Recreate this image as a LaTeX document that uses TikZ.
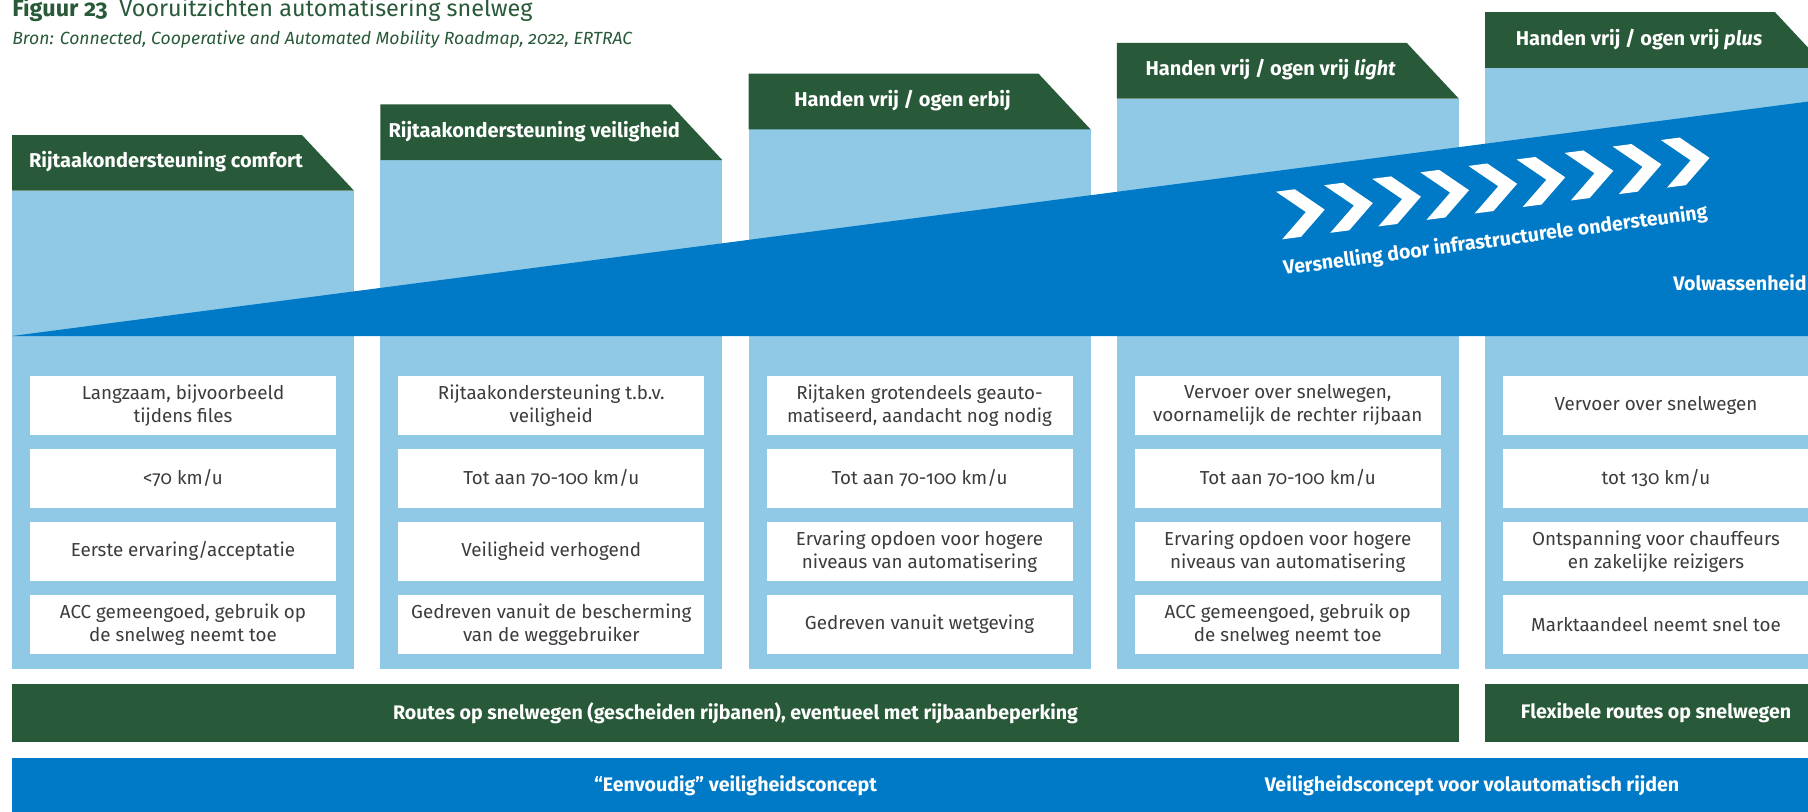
\documentclass[tikz,border=0pt]{standalone}
\usepackage{fontspec}
\setmainfont{Fira Sans}[Numbers=OldStyle]
\usepackage{tikz}
\usetikzlibrary{positioning}
\definecolor{rijkgreen}{HTML}{285938}
\definecolor{rijklight}{HTML}{8FC9E6}
\definecolor{rijkblue}{HTML}{007AC7}
\definecolor{boxgrey}{HTML}{3C3C3C}
\tikzset{colfill/.style={fill=rijklight},
headfill/.style={fill=rijkgreen},
headtext/.style={text=white, font=\fontsize{10}{12}\selectfont\bfseries, inner sep=0pt},
infobox/.style={rectangle, fill=white, minimum width=153pt, minimum height=29.35pt, align=center, text=boxgrey, font=\fontsize{9.4}{11.5}\selectfont, inner sep=0pt},
roadbar/.style={rectangle, fill=rijkgreen, minimum height=29pt, inner sep=0pt, text=white, font=\fontsize{9.8}{12}\selectfont\bfseries},
bartext/.style={text=white, font=\fontsize{9.8}{12}\selectfont\bfseries, inner sep=0pt},
chevronmark/.pic={\fill[white] (0,0) -- (19,0) -- (46,24) -- (19,48) -- (0,48) -- (27,24) -- cycle;},}

\begin{document}
\begin{tikzpicture}[x=0.5pt, y=-0.5pt, node distance=36.5pt]
\useasboundingbox (0,0) rectangle (1808,811);
\clip (0,0) rectangle (1808,811);
\node [anchor=base west, inner sep=0pt, text=rijkgreen, font=\fontsize{11.7}{14}\selectfont] (title) at (12,16) {\textbf{Figuur 23}\hspace{0.5em}Vooruitzichten automatisering snelweg};
\node [anchor=base west, inner sep=0pt, text=rijkgreen, font=\fontsize{8.8}{10}\selectfont\itshape] (source) at (12,44) {Bron: Connected, Cooperative and Automated Mobility Roadmap, 2022, ERTRAC};
\fill[colfill] (12,190.7) rectangle (354,669);
\fill[colfill] (380.25,160) rectangle (722.25,669);
\fill[colfill] (748.5,129.3) rectangle (1090.5,669);
\fill[colfill] (1116.75,98.6) rectangle (1458.75,669);
\fill[colfill] (1485,67.9) rectangle (1827,669);
\fill[headfill] (12,135) -- (302,135) -- (354,190.7) -- (12,190.7) -- cycle;
\fill[headfill] (380.25,104.3) -- (670.25,104.3) -- (722.25,160) -- (380.25,160) -- cycle;
\fill[headfill] (748.5,73.6) -- (1038.5,73.6) -- (1090.5,129.3) -- (748.5,129.3) -- cycle;
\fill[headfill] (1116.75,42.9) -- (1406.75,42.9) -- (1458.75,98.6) -- (1116.75,98.6) -- cycle;
\fill[headfill] (1485,12.2) -- (1775,12.2) -- (1827,67.9) -- (1485,67.9) -- cycle;
\node [headtext] (h1) at (166,162) {Rijtaakondersteuning comfort};
\node [headtext] (h2) at (534.25,131.3) {Rijtaakondersteuning veiligheid};
\node [headtext] (h3) at (902.5,100.6) {Handen vrij / ogen erbij};
\node [headtext] (h4) at (1270.75,69.9) {Handen vrij / ogen vrij \textit{light}};
\node [headtext] (h5) at (1639,39.2) {Handen vrij / ogen vrij \textit{plus}};
\fill[rijkblue] (12,336) -- (1830,98.7) -- (1830,336) -- cycle;
\pic[rotate=7.4] at (1276,191.7) {chevronmark};
\pic[rotate=7.4] at (1324.1,185.2) {chevronmark};
\pic[rotate=7.4] at (1372.2,178.8) {chevronmark};
\pic[rotate=7.4] at (1420.3,172.3) {chevronmark};
\pic[rotate=7.4] at (1468.4,165.9) {chevronmark};
\pic[rotate=7.4] at (1516.5,159.4) {chevronmark};
\pic[rotate=7.4] at (1564.6,152.9) {chevronmark};
\pic[rotate=7.4] at (1612.7,146.5) {chevronmark};
\pic[rotate=7.4] at (1660.8,140) {chevronmark};
\node [bartext, rotate=7.6, anchor=base west] (accel) at (1284,275) {Versnelling door infrastructurele ondersteuning};
\node [bartext, anchor=west] (maturity) at (1673,282.5) {Volwassenheid};
\node [infobox] (c1a) at (183,405.35) {Langzaam, bijvoorbeeld\\tijdens files};
\node [infobox] (c1b) [below of=c1a] {<70 km/u};
\node [infobox] (c1c) [below of=c1b] {Eerste ervaring/acceptatie};
\node [infobox] (c1d) [below of=c1c] {ACC gemeengoed, gebruik op\\de snelweg neemt toe};
\node [infobox] (c2a) at (551.25,405.35) {Rijtaakondersteuning t.b.v.\\veiligheid};
\node [infobox] (c2b) [below of=c2a] {Tot aan 70-100 km/u};
\node [infobox] (c2c) [below of=c2b] {Veiligheid verhogend};
\node [infobox] (c2d) [below of=c2c] {Gedreven vanuit de bescherming\\van de weggebruiker};
\node [infobox] (c3a) at (919.5,405.35) {Rijtaken grotendeels geauto-\\matiseerd, aandacht nog nodig};
\node [infobox] (c3b) [below of=c3a] {Tot aan 70-100 km/u};
\node [infobox] (c3c) [below of=c3b] {Ervaring opdoen voor hogere\\niveaus van automatisering};
\node [infobox] (c3d) [below of=c3c] {Gedreven vanuit wetgeving};
\node [infobox] (c4a) at (1287.75,405.35) {Vervoer over snelwegen,\\voornamelijk de rechter rijbaan};
\node [infobox] (c4b) [below of=c4a] {Tot aan 70-100 km/u};
\node [infobox] (c4c) [below of=c4b] {Ervaring opdoen voor hogere\\niveaus van automatisering};
\node [infobox] (c4d) [below of=c4c] {ACC gemeengoed, gebruik op\\de snelweg neemt toe};
\node [infobox] (c5a) at (1656,405.35) {Vervoer over snelwegen};
\node [infobox] (c5b) [below of=c5a] {tot 130 km/u};
\node [infobox] (c5c) [below of=c5b] {Ontspanning voor chauffeurs\\en zakelijke reizigers};
\node [infobox] (c5d) [below of=c5c] {Marktaandeel neemt snel toe};
\node [roadbar, minimum width=723.5pt] (routes) at (735.5,713) {Routes op snelwegen (gescheiden rijbanen), eventueel met rijbaanbeperking};
\node [roadbar, minimum width=171pt] (flexroutes) at (1656,713) {Flexibele routes op snelwegen};
\fill[rijkblue] (12,758) rectangle (1830,816);
\node [bartext] (simple) at (735.5,786) {“Eenvoudig” veiligheidsconcept};
\node [bartext] (fullauto) at (1472,786) {Veiligheidsconcept voor volautomatisch rijden};
\end{tikzpicture}
\end{document}
